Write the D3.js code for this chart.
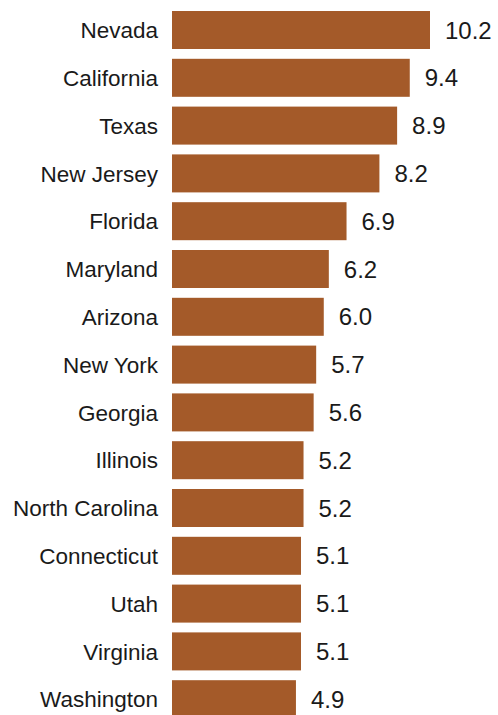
<!DOCTYPE html>
<html>
<head>
<meta charset="utf-8">
<script src="https://cdn.jsdelivr.net/npm/d3@7"></script>
<style>
  body { margin: 0; background: #fff; }
  svg { display: block; }
  text { font-family: "Liberation Sans", Arial, sans-serif; fill: #1a1a1a; }
  .name { font-size: 22.5px; }
  .val { font-size: 24px; }
</style>
</head>
<body>
<div id="chart"></div>
<script>
// states, top to bottom
var states = ["Nevada", "California", "Texas", "New Jersey", "Florida", "Maryland",
  "Arizona", "New York", "Georgia", "Illinois", "North Carolina", "Connecticut",
  "Utah", "Virginia", "Washington"];
var values = [10.2, 9.4, 8.9, 8.2, 6.9, 6.2, 6.0, 5.7, 5.6, 5.2, 5.2, 5.1, 5.1, 5.1, 4.9];

var width = 498, height = 715;

var svg = d3.select("#chart").append("svg")
    .attr("width", width)
    .attr("height", height);

// 172px at zero, 10.2 ends at 430
var x = d3.scaleLinear().domain([0, 10.2]).range([172, 430]);

var y = d3.scaleBand()
    .domain(states)
    .range([6.1, 6.1 + 15 * 47.8])
    .paddingInner(0.205)
    .paddingOuter(0.1025);

var rows = svg.selectAll("g.row")
    .data(states)
    .enter().append("g")
    .attr("class", "row");

rows.append("rect")
    .attr("x", x(0))
    .attr("y", d => y(d))
    .attr("height", y.bandwidth())
    .attr("width", (d, i) => x(values[i]) - x(0))
    .attr("fill", "#a45a29");

// state names
rows.append("text")
    .attr("class", "name")
    .attr("x", x(0) - 14)
    .attr("y", d => y(d) + y.bandwidth() / 2)
    .attr("dy", "0.36em")
    .attr("text-anchor", "end")
    .text(d => d);

// values
rows.append("text")
    .attr("class", "val")
    .attr("x", (d, i) => x(values[i]) + 15)
    .attr("y", d => y(d) + y.bandwidth() / 2)
    .attr("dy", "0.36em")
    .text((d, i) => values[i].toFixed(1));
</script>
</body>
</html>
